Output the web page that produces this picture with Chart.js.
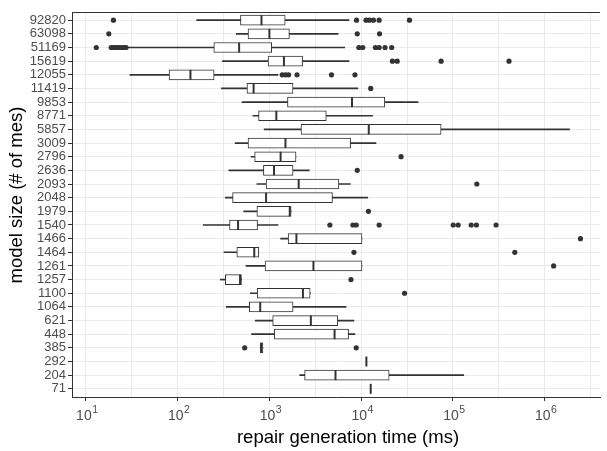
<!DOCTYPE html>
<html>
<head>
<meta charset="utf-8">
<script src="https://cdn.jsdelivr.net/npm/chart.js@4"></script>
<style>
  html, body { margin: 0; padding: 0; background: #fff; }
  canvas { display: block; }
</style>
</head>
<body>
<canvas id="boxChart" width="607" height="451"></canvas>
<script>
// categories, top to bottom
const modelSizes = ['92820', '63098', '51169', '15619', '12055', '11419', '9853', '8771', '5857', '3009',
  '2796', '2636', '2093', '2048', '1979', '1540', '1466', '1464', '1261', '1257',
  '1100', '1064', '621', '448', '385', '292', '204', '71'];

// box plot stats (ms), null = not drawn
const whiskerLow = [161, 435, 28.5, 308, 30.2, 300, 504, 662, 877, 424,
  631, 362, 731, 331, 525, 190, 1325, 320, 556, 292,
  620, 339, 701, 640, null, null, 2140, null];
const boxLow = [484, 585, 248, 968, 80.7, 570, 1575, 762, 2210, 585,
  691, 861, 920, 397, 731, 368, 1600, 442, 897, 331,
  737, 604, 1086, 1133, 795, null, 2420, null];
const medians = [820, 1000, 468, 1440, 138, 673, 7940, 1190, 12100, 1497,
  1325, 1122, 2085, 920, 1667, 456, 1970, 684, 3020, 479,
  2320, 794, 2830, 5130, 815, 11400, 5250, 12700];
const boxHigh = [1486, 1652, 1060, 2300, 250, 1810, 18100, 4170, 74300, 7670,
  1950, 1810, 5720, 4870, 1725, 743, 10200, 767, 10200, 496,
  2780, 1810, 5560, 7290, 850, null, 20200, null];
const whiskerHigh = [7360, 5610, 6620, 7360, 1240, 9200, 41700, 13300, 1860000, 14500,
  null, 2720, 7620, 11800, null, 1240, null, null, null, null,
  2800, 6840, 8340, 8550, null, null, 131000, null];
const outliers = [
  [20, 8900, 11300, 12300, 13600, 15700, 33600],
  [17.8, 9060, 15850],
  [13, 18.9, 20, 21, 22, 23, 24.5, 26, 27.4, 9440, 10400, 14300, 15700, 18200, 21500],
  [21900, 24700, 74300, 408000],
  [1380, 1500, 1620, 2000, 4750, 8550],
  [12700],
  [], [], [], [],
  [27200],
  [9060],
  [182000],
  [],
  [12000],
  [4560, 8130, 8830, 15700, 100700, 114000, 158000, 180000, 295000],
  [2450000],
  [8340, 472000],
  [1250000],
  [7740],
  [29700],
  [], [], [],
  [538, 8830],
  [], [], []
];

// x axis ticks
const xMajorTicks = [10, 100, 1000, 10000, 100000, 1000000];
const xExponents = ['1', '2', '3', '4', '5', '6'];
const xMinorTicks = [31.6, 316, 3162, 31623, 316228, 3162278];

const xTitle = 'repair generation time (ms)';
const yTitle = 'model size (# of mes)';

const ink = '#333333';
const fontFamily = "'Liberation Sans', Arial, sans-serif";

// build datasets from arrays
const whiskerData = [];
const boxData = [];
const medianData = [];
const outlierData = [];
modelSizes.forEach(function(_, i) {
    const lo = whiskerLow[i] != null ? whiskerLow[i] : boxLow[i];
    const hi = whiskerHigh[i] != null ? whiskerHigh[i] : boxHigh[i];
    if (lo != null && hi != null) whiskerData.push({ x: [lo, hi], y: i });
    if (boxLow[i] != null) boxData.push({ x: [boxLow[i], boxHigh[i]], y: i });
    medianData.push({ x: medians[i], y: i });
    outliers[i].forEach(function(v) { outlierData.push({ x: v, y: i }); });
});

// top panel border, "10^n" tick labels and axis titles
const panelExtras = {
    id: 'panelExtras',
    afterDraw: function(chart) {
        const a = chart.chartArea;
        const ctx = chart.ctx;
        const xs = chart.scales.x;
        ctx.save();
        ctx.strokeStyle = ink;
        ctx.lineWidth = 1;
        ctx.beginPath();
        const y = Math.round(a.top) + 0.5;
        ctx.moveTo(a.left, y);
        ctx.lineTo(a.right, y);
        ctx.stroke();

        ctx.fillStyle = '#4d4d4d';
        ctx.textBaseline = 'alphabetic';
        ctx.textAlign = 'left';
        xMajorTicks.forEach(function(v, k) {
            const px = xs.getPixelForValue(v);
            ctx.font = '14px ' + fontFamily;
            const wBase = ctx.measureText('10').width;
            ctx.font = '10.5px ' + fontFamily;
            const wExp = ctx.measureText(xExponents[k]).width;
            const x0 = px - (wBase + wExp) / 2 + 1;
            ctx.font = '14px ' + fontFamily;
            ctx.fillText('10', x0, 420);
            ctx.font = '10.5px ' + fontFamily;
            ctx.fillText(xExponents[k], x0 + wBase + 0.5, 413);
        });

        // axis titles
        ctx.fillStyle = '#000';
        ctx.font = '18.5px ' + fontFamily;
        ctx.textAlign = 'center';
        ctx.textBaseline = 'middle';
        ctx.fillText(xTitle, 348, 438);
        ctx.translate(17, 195);
        ctx.rotate(-Math.PI / 2);
        ctx.fillText(yTitle, 0, 0);
        ctx.restore();
    }
};

const ctx = document.getElementById('boxChart').getContext('2d');
new Chart(ctx, {
    type: 'bar',
    data: {
        datasets: [
            {
                type: 'scatter',
                data: medianData,
                pointStyle: 'line',
                rotation: 90,
                radius: 5,
                borderWidth: 2,
                borderColor: ink,
                order: 0
            },
            {
                type: 'scatter',
                data: outlierData,
                pointStyle: 'circle',
                radius: 2.6,
                borderWidth: 0,
                backgroundColor: ink,
                order: 0
            },
            {
                type: 'bar',
                data: boxData,
                indexAxis: 'y',
                grouped: false,
                barThickness: 10,
                backgroundColor: '#ffffff',
                borderColor: ink,
                borderWidth: 1,
                borderSkipped: false,
                order: 1
            },
            {
                type: 'bar',
                data: whiskerData,
                indexAxis: 'y',
                grouped: false,
                barThickness: 1,
                backgroundColor: ink,
                borderWidth: 0,
                order: 2
            }
        ]
    },
    options: {
        indexAxis: 'y',
        responsive: false,
        animation: false,
        events: [],
        layout: { padding: { top: 12, right: 0, left: 0, bottom: 0 } },
        plugins: {
            legend: { display: false },
            tooltip: { enabled: false }
        },
        scales: {
            x: {
                type: 'logarithmic',
                position: 'bottom',
                min: 7.07,
                max: 4000000,
                afterBuildTicks: function(scale) {
                    scale.ticks = xMajorTicks.concat(xMinorTicks)
                        .sort(function(a, b) { return a - b; })
                        .map(function(v) { return { value: v }; });
                },
                afterFit: function(scale) { scale.height = 54; },
                grid: {
                    color: '#ebebeb',
                    lineWidth: 1,
                    tickLength: 4,
                    tickColor: function(c) {
                        return c.tick && xMajorTicks.indexOf(c.tick.value) >= 0 ? ink : 'rgba(0,0,0,0)';
                    }
                },
                border: { color: ink, width: 1 },
                ticks: {
                    display: false,
                    autoSkip: false,
                    maxRotation: 0
                }
            },
            y: {
                type: 'linear',
                position: 'left',
                reverse: true,
                min: -0.6,
                max: 27.6,
                offset: false,
                afterBuildTicks: function(scale) {
                    scale.ticks = modelSizes.map(function(_, i) { return { value: i }; });
                },
                afterFit: function(scale) { scale.width = 72; },
                grid: {
                    offset: false,
                    color: '#ebebeb',
                    lineWidth: 1,
                    tickLength: 4,
                    tickColor: ink
                },
                border: { color: ink, width: 1 },
                ticks: {
                    autoSkip: false,
                    padding: 2,
                    color: '#4d4d4d',
                    font: { family: fontFamily, size: 13 },
                    callback: function(value) { return modelSizes[value]; }
                }
            }
        }
    },
    plugins: [panelExtras]
});
</script>
</body>
</html>
